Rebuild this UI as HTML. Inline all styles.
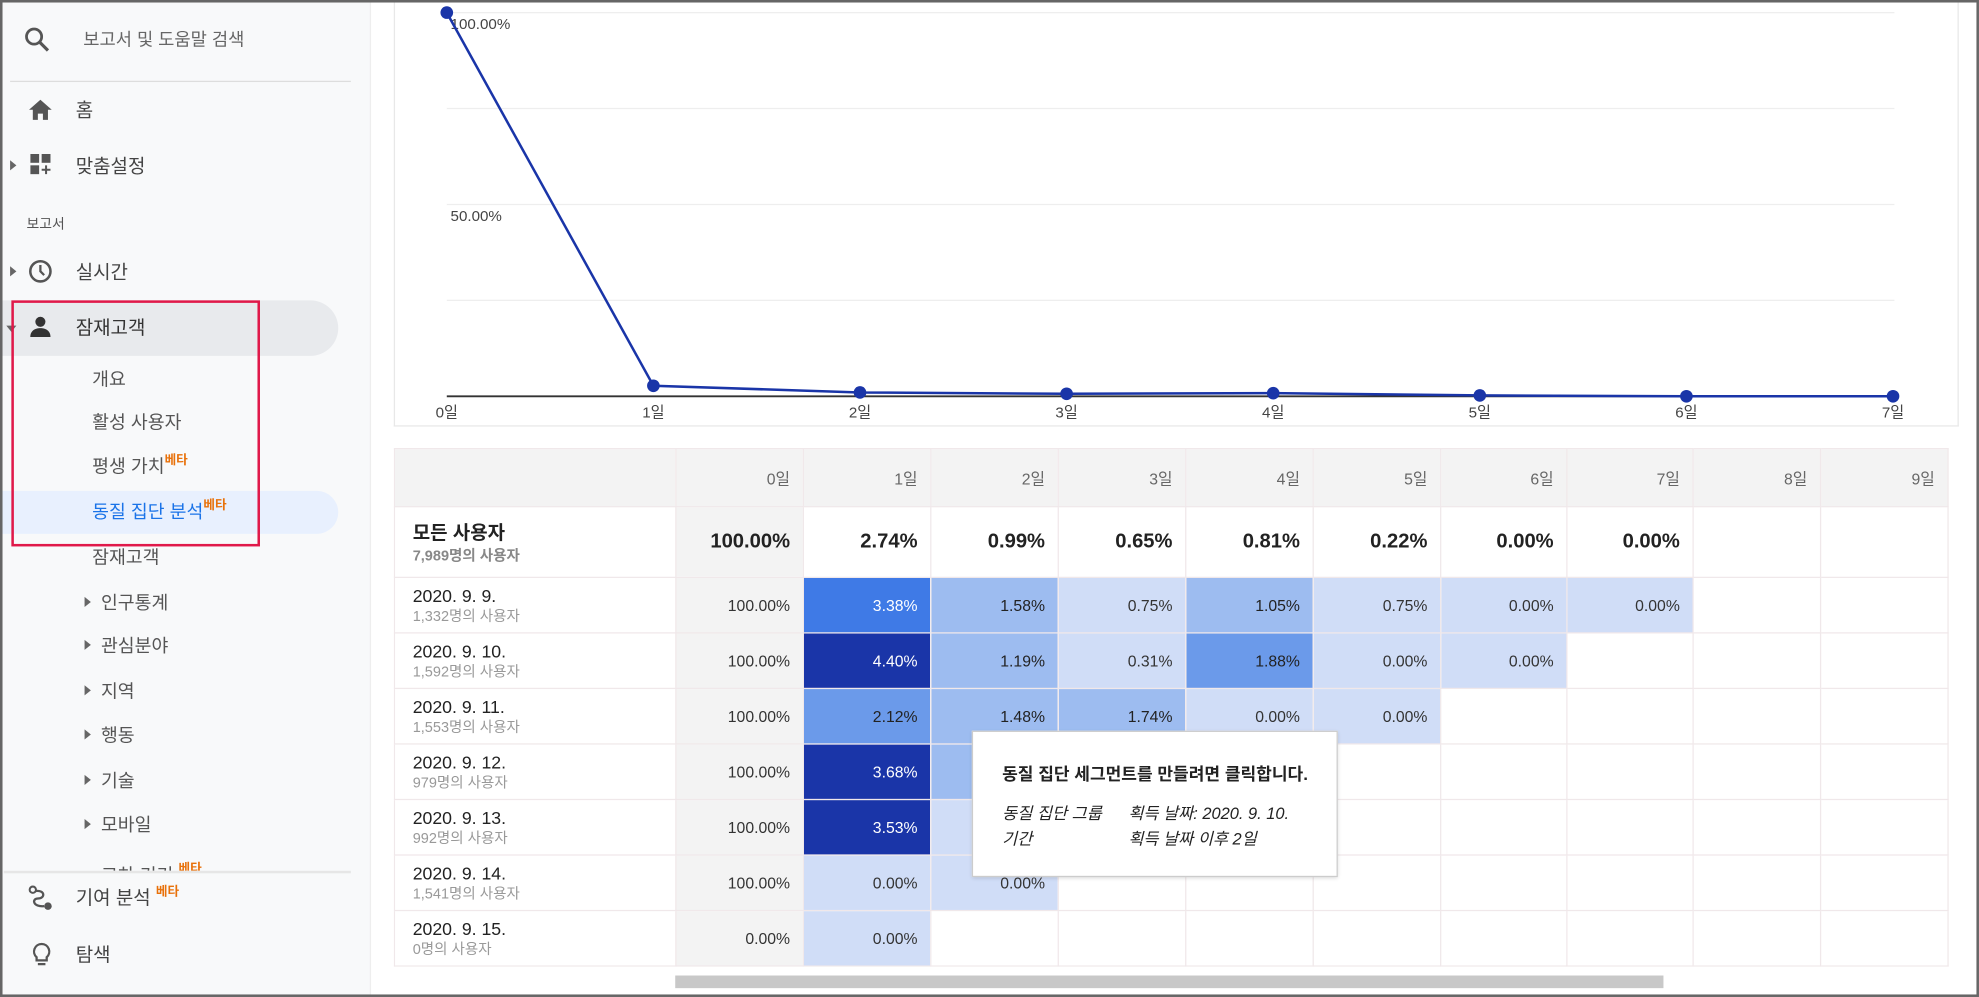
<!DOCTYPE html>
<html><head><meta charset="utf-8"><style>
html,body{margin:0;padding:0;width:1979px;height:997px;overflow:hidden;background:#fff}
#wrap{position:absolute;left:0;top:0;width:1568px;height:790px;transform:scale(1.2621,1.2620);transform-origin:0 0;font-family:"Liberation Sans","Noto Sans CJK KR",sans-serif;color:#333}
.abs{position:absolute;white-space:nowrap}
#frame{position:absolute;left:0;top:0;width:1564px;height:786px;border:2px solid #666;pointer-events:none}
#side{position:absolute;left:0;top:0;width:293px;height:790px;background:#f8f9fa;border-right:1px solid #eee}
.si{position:absolute;font-size:15px;color:#444;transform:translateY(-50%)}
.sub{font-size:14.5px;color:#555}
.beta{color:#e8710a;font-size:10px;font-weight:bold;vertical-align:top;position:relative;top:-3px}
.tri{position:absolute;width:0;height:0;border-top:4px solid transparent;border-bottom:4px solid transparent;border-left:5px solid #666;transform:translateY(-50%)}
table{border-collapse:collapse;table-layout:fixed}
</style></head><body>
<div id="wrap">
<div id="side">
 <svg class="abs" style="left:18px;top:20px" width="22" height="22"><circle cx="9" cy="9" r="6" fill="none" stroke="#555" stroke-width="2.2"/><line x1="13.5" y1="13.5" x2="20" y2="20" stroke="#555" stroke-width="2.5"/></svg>
 <div class="si" style="left:66px;top:31px;font-size:14px;color:#666">보고서 및 도움말 검색</div>
 <div class="abs" style="left:8px;top:64px;width:270px;height:1px;background:#ddd"></div>
 <svg class="abs" style="left:22px;top:78px" width="20" height="18"><path d="M10 1 L19 9 H16 V17 H12 V12 H8 V17 H4 V9 H1 Z" fill="#555"/></svg>
 <div class="si" style="left:60px;top:87px">홈</div>
 <div class="tri" style="left:8px;top:131px"></div>
 <svg class="abs" style="left:24px;top:122px" width="18" height="18"><rect x="0" y="0" width="7" height="7" fill="#555"/><rect x="9" y="0" width="7" height="7" fill="#555"/><rect x="0" y="9" width="7" height="7" fill="#555"/><path d="M12.5 9v7M9 12.5h7" stroke="#555" stroke-width="1.6"/></svg>
 <div class="si" style="left:60px;top:131px">맞춤설정</div>
 <div class="si" style="left:21px;top:177px;font-size:11px;color:#555">보고서</div>
 <div class="tri" style="left:8px;top:215px"></div>
 <svg class="abs" style="left:22px;top:205px" width="20" height="20"><circle cx="10" cy="10" r="8" fill="none" stroke="#555" stroke-width="2"/><path d="M10 5v5l3 3" fill="none" stroke="#555" stroke-width="1.8"/></svg>
 <div class="si" style="left:60px;top:215px">실시간</div>
 <div class="abs" style="left:0;top:238px;width:268px;height:44px;background:#e8eaed;border-radius:0 22px 22px 0"></div>
 <div class="abs" style="left:5px;top:258px;width:0;height:0;border-left:4px solid transparent;border-right:4px solid transparent;border-top:5px solid #666"></div>
 <svg class="abs" style="left:23px;top:250px" width="18" height="18"><circle cx="9" cy="5" r="4" fill="#333"/><path d="M1 17c0-5 4-7 8-7s8 2 8 7z" fill="#333"/></svg>
 <div class="si" style="left:60px;top:259px;color:#333">잠재고객</div>
 <div class="si sub" style="left:73px;top:300px">개요</div>
 <div class="si sub" style="left:73px;top:334px">활성 사용자</div>
 <div class="si sub" style="left:73px;top:369px">평생 가치<span class="beta">베타</span></div>
 <div class="abs" style="left:0;top:389px;width:268px;height:34px;background:#e8f0fe;border-radius:0 17px 17px 0"></div>
 <div class="si sub" style="left:73px;top:405px;color:#1a73e8">동질 집단 분석<span class="beta">베타</span></div>
 <div class="abs" style="left:9px;top:238px;width:193px;height:191px;border:2px solid #e0194a"></div>
 <div class="si sub" style="left:73px;top:441px">잠재고객</div>
 <div class="tri" style="left:67px;top:477px"></div><div class="si sub" style="left:80px;top:477px">인구통계</div>
 <div class="tri" style="left:67px;top:511px"></div><div class="si sub" style="left:80px;top:511px">관심분야</div>
 <div class="tri" style="left:67px;top:547px"></div><div class="si sub" style="left:80px;top:547px">지역</div>
 <div class="tri" style="left:67px;top:582px"></div><div class="si sub" style="left:80px;top:582px">행동</div>
 <div class="tri" style="left:67px;top:618px"></div><div class="si sub" style="left:80px;top:618px">기술</div>
 <div class="tri" style="left:67px;top:653px"></div><div class="si sub" style="left:80px;top:653px">모바일</div>
 <div class="abs" style="left:0;top:680px;width:293px;height:10px;overflow:hidden"><div class="si sub" style="left:80px;top:13px">교차 기기 <span class="beta">베타</span></div></div>
 <div class="abs" style="left:3px;top:690px;width:275px;height:2px;background:#e6e6e6"></div>
 <svg class="abs" style="left:22px;top:701px" width="22" height="22"><circle cx="4" cy="4" r="2.5" fill="none" stroke="#555" stroke-width="1.6"/><path d="M6 5 C14 4 14 11 8 11 C3 11 4 18 13 17" fill="none" stroke="#555" stroke-width="1.8"/><circle cx="16" cy="17" r="3" fill="#555"/></svg>
 <div class="si" style="left:60px;top:711px">기여 분석 <span class="beta">베타</span></div>
 <svg class="abs" style="left:24px;top:746px" width="18" height="22"><path d="M9 2a6 6 0 0 0-4 10.5V15h8v-2.5A6 6 0 0 0 9 2z" fill="none" stroke="#555" stroke-width="1.8"/><path d="M6 18h6" stroke="#555" stroke-width="1.8"/></svg>
 <div class="si" style="left:60px;top:756px">탐색</div>
</div>

<div class="abs" style="left:312px;top:-2px;width:1238px;height:339px;border:1px solid #e8e8e8;border-top:none">
<svg id="chart" width="1238" height="339" style="position:absolute;left:0;top:0"></svg>
</div>

<div class="abs" style="left:312px;top:355px;width:1238px;overflow:hidden"><table id="tbl"></table></div>
<div class="abs" style="left:535px;top:773px;width:783px;height:10px;background:#c8c8c8"></div>

<div class="abs" style="left:770px;top:579px;width:288px;height:114px;background:#fff;border:1px solid #ccc;box-shadow:0 1px 3px rgba(0,0,0,.15)">
 <div class="abs" style="left:23px;top:22px;font-size:13.5px;font-weight:bold;color:#222">동질 집단 세그먼트를 만들려면 클릭합니다.</div>
 <div class="abs" style="left:23px;top:55px;font-size:13px;font-style:italic;color:#222;line-height:20px">동질 집단 그룹<br>기간</div>
 <div class="abs" style="left:123px;top:55px;font-size:13px;font-style:italic;color:#222;line-height:20px">획득 날짜: 2020. 9. 10.<br>획득 날짜 이후 2일</div>
</div>
<div id="frame"></div>
</div>
<script>
const days=['0일','1일','2일','3일','4일','5일','6일','7일'];
const retention=[100,2.74,0.99,0.65,0.81,0.22,0,0];
const yTicks=[100,50];
const yTickLabels=['100.00%','50.00%'];
const colHeaders=['0일','1일','2일','3일','4일','5일','6일','7일','8일','9일'];
const totals=['100.00%','2.74%','0.99%','0.65%','0.81%','0.22%','0.00%','0.00%'];
const cohortDates=['2020. 9. 9.','2020. 9. 10.','2020. 9. 11.','2020. 9. 12.','2020. 9. 13.','2020. 9. 14.','2020. 9. 15.'];
const cohortUsers=['1,332명의 사용자','1,592명의 사용자','1,553명의 사용자','979명의 사용자','992명의 사용자','1,541명의 사용자','0명의 사용자'];
const cohortValues=[
 [100,3.38,1.58,0.75,1.05,0.75,0,0],
 [100,4.40,1.19,0.31,1.88,0,0],
 [100,2.12,1.48,1.74,0,0],
 [100,3.68,1.2,0.5],
 [100,3.53,0.5],
 [100,0,0],
 [0,0]];
const NS='http://www.w3.org/2000/svg';
const svg=document.getElementById('chart');
const x=i=>41+i*163.7;
const y=v=>316-v*3.04;
function el(t,a){const e=document.createElementNS(NS,t);for(const k in a)e.setAttribute(k,a[k]);svg.appendChild(e);return e;}
[100,75,50,25].forEach(v=>{const g=el('line',{x1:41,x2:1188,y1:y(v),y2:y(v),stroke:'#eee'});

});
const base=el('line',{x1:41,x2:1188,y1:y(0),y2:y(0),stroke:'#333','stroke-width':1.5});


yTicks.forEach((v,i)=>{const t=el('text',{x:44,y:y(v)+13,'font-size':12,fill:'#444'});t.textContent=yTickLabels[i];

});
days.forEach((d,i)=>{const t=el('text',{x:x(i),y:333,'font-size':12,fill:'#444','text-anchor':'middle'});t.textContent=d;

});
const pl=el('polyline',{points:retention.map((v,i)=>x(i)+','+y(v)).join(' '),fill:'none',stroke:'#1a35a8','stroke-width':2});


retention.forEach((v,i)=>{const c=el('circle',{cx:x(i),cy:y(v),r:5,fill:'#1a35a8'});

});

function col(v){if(v>=3.5)return['#1a35a8','#fff'];if(v>=3)return['#3f7ae6','#fff'];if(v>=1.8)return['#6b9aea','#222'];if(v>=1)return['#9dbcf0','#222'];return['#d0ddf7','#333'];}
const tb=document.getElementById('tbl');
const W=[223,101,101,101,101,101,101,100,100,101,101];
tb.style.width=W.reduce((a,b)=>a+b,0)+'px';
function cell(tr,w,h,bg,html){const td=document.createElement('td');td.style.cssText=`width:${w}px;height:${h}px;padding:0 10px 0 0;box-sizing:border-box;border:1px solid #f0e8ea;background:${bg};text-align:right;font-size:12.5px;overflow:hidden;white-space:nowrap`;td.innerHTML=html;tr.appendChild(td);return td;}
let tr=document.createElement('tr');tb.appendChild(tr);
const h0=cell(tr,W[0],46,'#f3f3f3','');


colHeaders.forEach((h,i)=>{const c=cell(tr,W[i+1],46,'#f3f3f3',h);c.style.color='#666';

});
tr=document.createElement('tr');tb.appendChild(tr);
const lab=cell(tr,W[0],56,'#fff','<div style="font-size:15px;font-weight:bold;color:#222">모든 사용자</div><div style="font-size:11.5px;color:#888;font-weight:bold">7,989명의 사용자</div>');
lab.style.textAlign='left';lab.style.paddingLeft='14px';


colHeaders.forEach((h,i)=>{const c=cell(tr,W[i+1],56,i==0?'#f3f3f3':'#fff',totals[i]||'');c.style.fontSize='16px';c.style.fontWeight='bold';c.style.color='#222';

});
cohortDates.forEach((d,r)=>{tr=document.createElement('tr');tb.appendChild(tr);
 const l=cell(tr,W[0],44,'#fff',`<div style="font-size:14px;color:#222">${d}</div><div style="font-size:11.5px;color:#999">${cohortUsers[r]}</div>`);
 l.style.textAlign='left';l.style.paddingLeft='14px';
 
 
 colHeaders.forEach((h,i)=>{const v=cohortValues[r][i];let bg='#fff',fg='#333',txt='';
  if(v!==undefined){txt=v.toFixed(2)+'%';if(i==0){bg='#f3f3f3';}else{[bg,fg]=col(v);}}
  const c=cell(tr,W[i+1],44,bg,txt);c.style.color=fg;
  
  });
});
</script>
</body></html>
